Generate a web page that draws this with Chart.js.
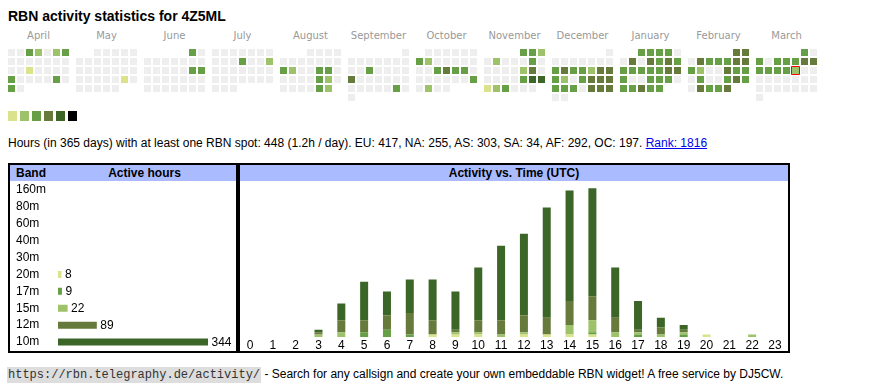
<!DOCTYPE html>
<html><head><meta charset="utf-8">
<script src="https://cdn.jsdelivr.net/npm/chart.js@4.4.1/dist/chart.umd.min.js"></script>
<style>
html,body{margin:0;padding:0;background:#fff;}
body{width:870px;height:390px;position:relative;overflow:hidden;font-family:"Liberation Sans",Arial,sans-serif;color:#000;}
.abs{position:absolute;white-space:nowrap;}
#title{left:8px;top:8px;font-size:14px;line-height:16px;font-weight:bold;}
.mon{position:absolute;font-family:"DejaVu Sans",sans-serif;font-size:10px;line-height:12px;color:#999;top:29.5px;text-align:center;width:61px;white-space:nowrap;}
.sw{position:absolute;top:111px;width:9px;height:10px;}
#stats{left:8px;top:136px;font-size:12px;line-height:14px;}
#stats a{color:#0000ee;text-decoration:underline;}
.box{position:absolute;border:2px solid #000;box-sizing:border-box;}
.hdr{position:absolute;background:#aabbff;font-weight:bold;font-size:12px;line-height:16px;height:16px;top:165px;}
.hdr span{position:absolute;top:0;white-space:nowrap;}
canvas{position:absolute;}
#foot{left:7px;top:367px;font-size:12px;line-height:14px;}
#foot .url{font-family:"Liberation Mono",monospace;font-size:12px;background:#dddddd;padding:1px 1px;color:#333;}
</style>
</head>
<body>
<div id="title" class="abs">RBN activity statistics for 4Z5ML</div>
<div id="months"></div>
<canvas id="cal" width="870" height="66" style="left:0;top:44px;"></canvas>
<div id="legend"></div>
<div id="stats" class="abs">Hours (in 365 days) with at least one RBN spot: 448 (1.2h / day). EU: 417, NA: 255, AS: 303, SA: 34, AF: 292, OC: 197. <a href="#">Rank: 1816</a></div>

<canvas id="bands" width="226" height="170" style="left:10px;top:181px;"></canvas>
<canvas id="act" width="552" height="170" style="left:238px;top:181px;"></canvas>
<div class="hdr" style="left:10px;width:226px;"><span style="left:6px;">Band</span><span style="left:134.5px;transform:translateX(-50%);">Active hours</span></div>
<div class="hdr" style="left:240px;width:548px;"><span style="left:274px;transform:translateX(-50%);">Activity vs. Time (UTC)</span></div>
<div class="box" style="left:8px;top:163px;width:230px;height:190px;"></div>
<div class="box" style="left:238px;top:163px;width:552px;height:190px;"></div>

<div id="foot" class="abs"><span class="url">https://rbn.telegraphy.de/activity/</span> - Search for any callsign and create your own embeddable RBN widget! A free service by DJ5CW.</div>

<script>
// ---------- data ----------
const monthNames = ["April","May","June","July","August","September","October","November","December","January","February","March"];
const firstYear = 2024, firstMonth = 3; // April 2024
const todayDate = "2025-03-14";
// daily activity level (0 = none ... 5 = most), one entry per day of the month
const levelsApr = [0,0,3,2,0,2,3, 0,0,0,0,0,0,0, 0,0,1,0,0,0,0, 3,0,0,0,0,3,0, 3,0];
const levelsMay = [0,0,0,0,0, 0,0,0,0,0,0,0, 0,0,0,0,0,0,0, 0,0,0,0,0,1,0, 0,0,0,0,0];
const levelsJun = [3,0, 0,0,0,0,0,0,0, 0,0,0,0,0,3,3, 0,0,0,0,0,0,0, 0,0,0,0,0,0,0];
const levelsJul = [0,0,0,0,0,0,0, 0,0,0,3,0,0,2, 0,0,0,0,0,0,0, 0,0,0,0,0,0,0, 0,0,0];
const levelsAug = [0,0,0,0, 0,0,0,0,0,0,0, 3,2,0,0,3,3,0, 0,0,0,0,3,2,0, 0,0,0,0,3,2];
const levelsSep = [0, 0,0,0,0,0,0,0, 0,0,3,0,0,0,0, 4,0,0,0,0,0,0, 0,0,0,0,0,3,0, 0];
const levelsOct = [0,0,0,0,0,0, 3,2,0,0,0,0,0, 0,0,3,4,3,3,0, 0,0,0,0,0,0,3, 0,2,0,0];
const levelsNov = [3,3,2, 0,2,0,0,0,3,0, 0,0,0,0,2,4,0, 0,0,0,0,3,5,5, 1,2,3,0,0,0];
const levelsDec = [0, 0,0,0,0,0,0,0, 3,4,3,3,2,4,4, 3,2,0,3,4,4,4, 3,3,3,0,4,4,4, 0,0];
const levelsJan = [3,3,3,3,0, 0,4,0,4,3,4,3, 3,3,3,3,3,4,4, 3,0,0,3,3,3,0, 3,3,4,3,3];
const levelsFeb = [4,4, 0,4,3,3,3,4,4, 3,2,0,0,4,3,3, 0,3,0,0,3,4,3, 0,4,3,3,4];
const levelsMar = [3,0, 3,0,3,3,3,4,4, 3,3,3,3,2,0,0, 0,0,0,0,0,0,0, 0,0,0,0,0,0,0, 0];
const monthLevels = [levelsApr,levelsMay,levelsJun,levelsJul,levelsAug,levelsSep,levelsOct,levelsNov,levelsDec,levelsJan,levelsFeb,levelsMar];

const bandNames = ["160m","80m","60m","40m","30m","20m","17m","15m","12m","10m"];
const bandHours = [0,0,0,0,0,8,9,22,89,344];

const hours = ["0","1","2","3","4","5","6","7","8","9","10","11","12","13","14","15","16","17","18","19","20","21","22","23"];
const hourly20m = [0,0,0,0,0,0,0,0,1,1,1,0,1,1,1,1,0,0,0,0,1,0,0,0];
const hourly17m = [0,0,0,0,0,2,3,1,0,0,0,0,0,0,0,1,0,1,0,1,0,0,0,0];
const hourly15m = [0,0,0,1,2,0,0,0,0,1,1,1,1,0,4,5,2,1,1,1,0,0,1,0];
const hourly12m = [0,0,0,1,5,5,6,9,6,1,5,6,7,7,10,10,6,1,3,1,0,0,0,0];
const hourly10m = [0,0,0,1,7,16,10,14,17,16,22,31,34,46,46,45,21,12,4,2,0,0,0,0];

// ---------- styles ----------
const levelColors = ["#eeeeee","#dae28b","#9dc26a","#669f45","#657a3b","#3b6627","#000000"];
const bandColors = ["#999999","#999999","#999999","#999999","#999999",levelColors[1],levelColors[3],levelColors[2],levelColors[4],levelColors[5]];
Chart.defaults.font.family = '"Liberation Sans", Arial, sans-serif';

// month labels + legend (layout)
const CELL = 9, MONTH_W = 68, LEFT = 8;
const mDiv = document.getElementById('months');
monthNames.forEach((n,m)=>{
  const d=document.createElement('div'); d.className='mon'; d.textContent=n;
  d.style.left=(LEFT+m*MONTH_W)+'px'; mDiv.appendChild(d);
});
const lg=document.getElementById('legend');
levelColors.slice(1).forEach((c,i)=>{
  const d=document.createElement('div'); d.className='sw'; d.style.left=(8+12*i)+'px'; d.style.background=c; lg.appendChild(d);
});

// calendar points
const points=[];
monthLevels.forEach((lv,m)=>{
  const y = firstYear + Math.floor((firstMonth+m)/12);
  const mo = (firstMonth+m)%12;
  const startCol = (new Date(Date.UTC(y,mo,1)).getUTCDay()+6)%7;
  lv.forEach((level,i)=>{
    const pos=startCol+i;
    const ds = y+'-'+String(mo+1).padStart(2,'0')+'-'+String(i+1).padStart(2,'0');
    points.push({x:m*(MONTH_W/CELL)+pos%7, y:Math.floor(pos/7), level, today: ds===todayDate});
  });
});
const calCanvas=document.getElementById('cal');
const xMin=-(LEFT+3.5)/CELL, yMin=-8.5/CELL;
new Chart(calCanvas,{
  type:'scatter',
  data:{datasets:[{data:points,pointStyle:'rect',
    pointRadius:c=>c.raw&&c.raw.today?4*Math.SQRT2:3.5*Math.SQRT2,
    pointHoverRadius:c=>c.raw&&c.raw.today?4*Math.SQRT2:3.5*Math.SQRT2,
    pointBackgroundColor:c=>c.raw?levelColors[c.raw.level]:levelColors[0],
    pointBorderColor:'#ff0000',
    pointBorderWidth:c=>c.raw&&c.raw.today?1:0,
    clip:false}]},
  options:{responsive:false,animation:false,events:[],devicePixelRatio:1,
    layout:{padding:0,autoPadding:false},
    plugins:{legend:{display:false},tooltip:{enabled:false}},
    scales:{x:{type:'linear',display:false,min:xMin,max:xMin+calCanvas.width/CELL},
            y:{type:'linear',display:false,reverse:true,min:yMin,max:yMin+calCanvas.height/CELL}}}
});

// band chart
const valueLabels={id:'valueLabels',afterDatasetsDraw(chart){
  const ctx=chart.ctx, meta=chart.getDatasetMeta(0), data=chart.data.datasets[0].data;
  ctx.save(); ctx.font='12px "Liberation Sans", Arial, sans-serif'; ctx.fillStyle='#000'; ctx.textBaseline='middle';
  meta.data.forEach((bar,i)=>{ if(data[i]>0) ctx.fillText(String(data[i]), bar.x+3.5, bar.y+0.5); });
  ctx.restore();
}};
new Chart(document.getElementById('bands'),{
  type:'bar',
  data:{labels:bandNames,datasets:[{data:bandHours,backgroundColor:bandColors,barThickness:7,inflateAmount:0}]},
  options:{indexAxis:'y',responsive:false,animation:false,events:[],devicePixelRatio:1,
    layout:{padding:{left:6,right:28,top:0,bottom:0},autoPadding:false},
    plugins:{legend:{display:false},tooltip:{enabled:false}},
    scales:{x:{display:false,min:0,max:Math.max(...bandHours)},
            y:{grid:{display:false,drawTicks:false},border:{display:false},
               ticks:{crossAlign:'far',color:'#000',font:{size:12,lineHeight:'1px'},padding:0,autoSkip:false},
               afterFit:s=>{s.width=42;}}}},
  plugins:[valueLabels]
});

// activity chart
const stackSeries=[["20m",hourly20m,levelColors[1]],["17m",hourly17m,levelColors[3]],["15m",hourly15m,levelColors[2]],["12m",hourly12m,levelColors[4]],["10m",hourly10m,levelColors[5]]];
new Chart(document.getElementById('act'),{
  type:'bar',
  data:{labels:hours,datasets:stackSeries.map(([l,d,c])=>({label:l,data:d,backgroundColor:c,barThickness:8,inflateAmount:0}))},
  options:{responsive:false,animation:false,events:[],devicePixelRatio:1,
    layout:{padding:{left:0.6,right:3.6,top:0,bottom:0}},
    plugins:{legend:{display:false},tooltip:{enabled:false}},
    scales:{x:{stacked:true,grid:{display:false,drawTicks:false},border:{display:false},
               ticks:{color:'#000',font:{size:12},padding:1,maxRotation:0,autoSkip:false},
               afterFit:s=>{s.height=14;}},
            y:{stacked:true,display:false,min:0,max:65}}}
});
</script>
</body></html>
